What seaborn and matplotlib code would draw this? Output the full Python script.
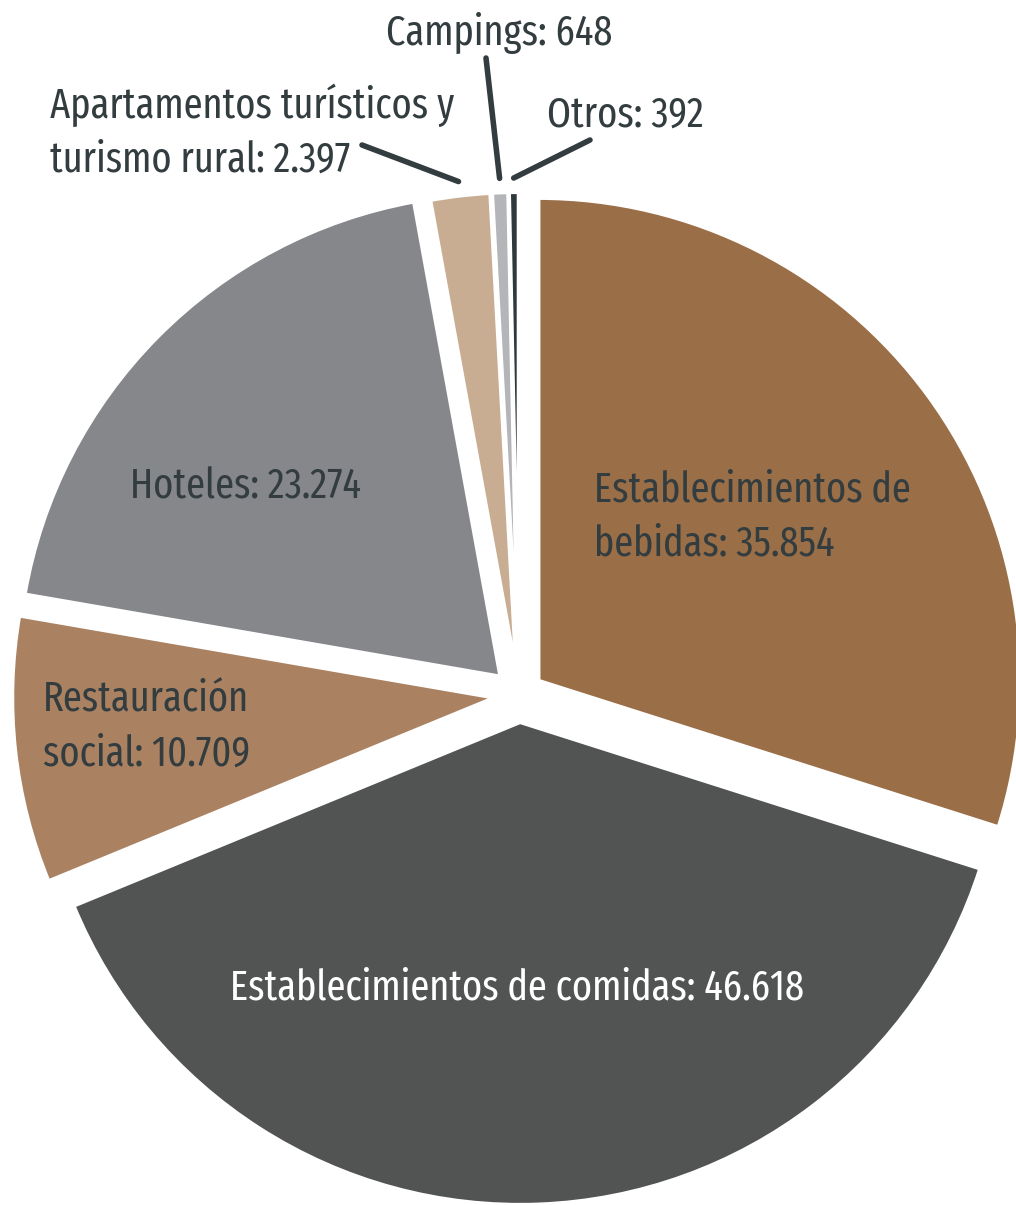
import numpy as np
import matplotlib
matplotlib.use("Agg")
import matplotlib.pyplot as plt
import seaborn as sns

# Datos
categorias = [
    "Establecimientos de bebidas",
    "Establecimientos de comidas",
    "Restauración social",
    "Hoteles",
    "Apartamentos turísticos y turismo rural",
    "Campings",
    "Otros",
]
valores = [35854, 46618, 10709, 23274, 2397, 648, 392]
etiquetas = [
    "Establecimientos de\nbebidas: 35.854",
    "Establecimientos de comidas: 46.618",
    "Restauración\nsocial: 10.709",
    "Hoteles: 23.274",
    "Apartamentos turísticos y\nturismo rural: 2.397",
    "Campings: 648",
    "Otros: 392",
]
colores = ["#9a6f48", "#525453", "#aa8262", "#85878b", "#c9ad93", "#b4b5b9", "#2e393b"]

sns.set_theme(style="white")
plt.rcParams["font.family"] = ["Fira Sans Extra Condensed", "DejaVu Sans"]

W, H = 1016, 1205
fig = plt.figure(figsize=(W / 100, H / 100), dpi=100)
ax = fig.add_axes([0, 0, 1, 1])

radio = 483
centro = (519, H - 695)
# desplazamiento de cada sector (en píxeles)
separacion = [24, 27, 24, 26, 20, 20, 20]

wedges, _ = ax.pie(
    valores,
    colors=sns.color_palette(colores),
    startangle=90,
    counterclock=False,
    radius=radio,
    center=centro,
    explode=separacion,
    wedgeprops=dict(edgecolor="white", linewidth=3),
)
ax.set_xlim(0, W)
ax.set_ylim(0, H)
ax.set_aspect("equal")
ax.axis("off")

txt = "#333d40"
fs = 30
ls = 1.4

# Etiquetas dentro de los sectores
ax.text(594, H - 517, etiquetas[0], ha="left", va="center", fontsize=fs, color=txt, linespacing=ls)
ax.text(517, H - 988, etiquetas[1], ha="center", va="center", fontsize=fs, color="white")
ax.text(43, H - 727, etiquetas[2], ha="left", va="center", fontsize=fs, color=txt, linespacing=ls)
ax.text(130, H - 487, etiquetas[3], ha="left", va="center", fontsize=fs, color=txt)

# Etiquetas exteriores con líneas
def ancla(w, extra=14):
    ang = np.deg2rad((w.theta1 + w.theta2) / 2)
    cx, cy = w.center
    return (cx + (w.r + extra) * np.cos(ang), cy + (w.r + extra) * np.sin(ang))

linea = dict(arrowstyle="-", color=txt, lw=4, shrinkA=0, shrinkB=0)

ax.text(50, H - 132, etiquetas[4], ha="left", va="center", fontsize=fs, color=txt, linespacing=ls)
ax.annotate("", xy=ancla(wedges[4]), xytext=(362, H - 145), arrowprops=linea)

ax.text(499, H - 33, etiquetas[5], ha="center", va="center", fontsize=fs, color=txt)
ax.annotate("", xy=ancla(wedges[5]), xytext=(486, H - 58), arrowprops=linea)

ax.text(547, H - 115, etiquetas[6], ha="left", va="center", fontsize=fs, color=txt)
ax.annotate("", xy=ancla(wedges[6]), xytext=(590, H - 140), arrowprops=linea)

fig.savefig("out.png", dpi=100)
